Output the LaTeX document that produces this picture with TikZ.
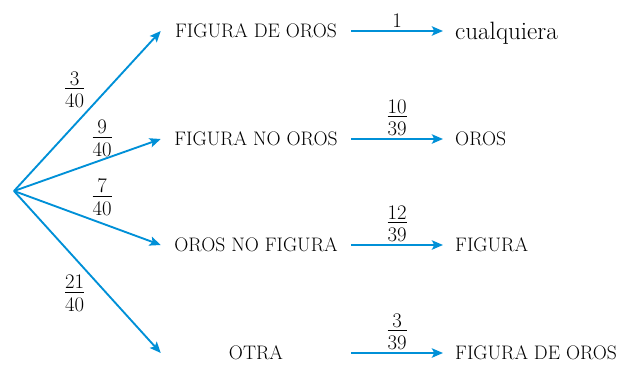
\documentclass[tikz,border=0pt]{standalone}
\usepackage{amsmath}
\usetikzlibrary{arrows.meta}

\definecolor{azul}{RGB}{0,144,215}
\newcommand{\prb}[2]{{\renewcommand{\arraystretch}{0}\setlength{\arrayrulewidth}{0.6pt}%
	\begin{tabular}{@{}c@{}}#1\\[2.6pt]\hline\rule{0pt}{15.9pt}#2\end{tabular}}}
\tikzset{
	rama/.style={draw=azul, line width=1.6pt, -{Stealth[length=9.5pt,width=8pt,inset=2pt]}},
	suceso/.style={minimum width=5.7cm, inner xsep=0pt, inner ysep=0pt, text height=11.4pt, text depth=0pt, font=\fontsize{16.7}{19}\selectfont},
	final/.style={anchor=west, inner xsep=0.36cm, inner ysep=0pt, text height=11.4pt, text depth=0pt, font=\fontsize{16.7}{19}\selectfont},
	prob/.style={font=\fontsize{17.7}{21}\selectfont, inner sep=2pt}
}

\begin{document}
\begin{tikzpicture}[x=0.03cm,y=-0.03cm]
	\useasboundingbox (0,0) rectangle (618,365);
	\coordinate (O) at (14,191);
	\node[suceso] (fo) at (256,31) {FIGURA DE OROS};
	\node[suceso] (fno) at (256,139) {FIGURA NO OROS};
	\node[suceso] (onf) at (256,245) {OROS NO FIGURA};
	\node[suceso] (otra) at (256,353) {OTRA};
	\node[final, text height=14.9pt, font=\fontsize{21.4}{24}\selectfont] (cual) at (443,31) {cualquiera};
	\node[final] (oros) at (443,139) {OROS};
	\node[final] (fig) at (443,245) {FIGURA};
	\node[final] (fdo) at (443,353) {FIGURA DE OROS};
	\draw[rama] (O) -- node[prob,pos=0.5,anchor=south east] {\prb{3}{40}} (fo.west);
	\draw[rama] (O) -- node[prob,pos=0.6,anchor=south] {\prb{9}{40}} (fno.west);
	\draw[rama] (O) -- node[prob,pos=0.6,anchor=south,yshift=4pt] {\prb{7}{40}} (onf.west);
	\draw[rama] (O) -- node[prob,pos=0.5,anchor=north east] {\prb{21}{40}} (otra.west);
	\draw[rama] (fo) -- node[prob,above] {1} (cual);
	\draw[rama] (fno) -- node[prob,above] {\prb{10}{39}} (oros);
	\draw[rama] (onf) -- node[prob,above] {\prb{12}{39}} (fig);
	\draw[rama] (otra) -- node[prob,above] {\prb{3}{39}} (fdo);
\end{tikzpicture}
\end{document}
